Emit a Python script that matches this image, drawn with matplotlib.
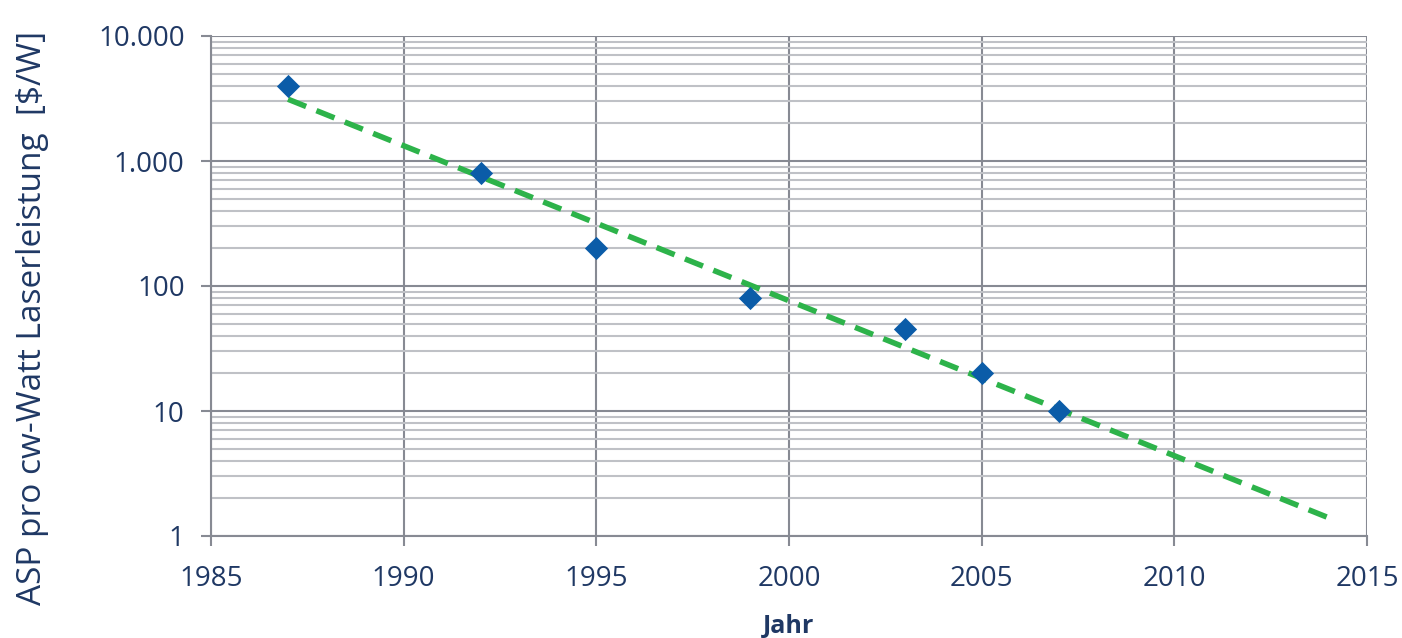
import matplotlib
matplotlib.use("Agg")
import matplotlib.pyplot as plt
import matplotlib.ticker as mticker
import numpy as np

# data
years = [1987, 1992, 1995, 1999, 2003, 2005, 2007]
asp = [4000, 800, 200, 80, 45, 20, 10]
trend_years = [1987, 2014]

x_ticks = [1985, 1990, 1995, 2000, 2005, 2010, 2015]
y_ticks = [1, 10, 100, 1000, 10000]
y_labels = ["1", "10", "100", "1.000", "10.000"]

text_col = "#1f3864"
major_col = "#878a93"
minor_col = "#bfc1c6"

plt.rcParams['font.family'] = ['Open Sans', 'DejaVu Sans']

fig = plt.figure(figsize=(14.02, 6.38), dpi=100)
ax = fig.add_axes([211 / 1402, 1 - 536 / 638, 1156 / 1402, 500 / 638])

# exponential trend line
k, d = np.polyfit(years, np.log10(asp), 1)
tx = np.array(trend_years, dtype=float)
ax.plot(tx, 10 ** (k * tx + d), color="#2db34a", lw=4, ls=(0, (3.5, 2)), zorder=3)

ax.scatter(years, asp, marker="D", s=140, color="#0b5ca8", zorder=4, linewidths=0)

ax.set_yscale("log")
ax.set_xlim(1985, 2015)
ax.set_ylim(1, 10000)
ax.set_xticks(x_ticks)
ax.set_yticks(y_ticks)
ax.set_yticklabels(y_labels)
ax.yaxis.set_minor_locator(mticker.LogLocator(base=10, subs=np.arange(2, 10)))
ax.yaxis.set_minor_formatter(mticker.NullFormatter())

ax.grid(True, which="major", color=major_col, lw=1.5)
ax.grid(True, which="minor", axis="y", color=minor_col, lw=1.5)
ax.set_axisbelow(True)

for side in ["top", "right"]:
    ax.spines[side].set_visible(False)
for side in ["left", "bottom"]:
    ax.spines[side].set_color(major_col)
    ax.spines[side].set_linewidth(1.5)

ax.tick_params(which="major", length=7, width=1.5, color=major_col,
               labelsize=20, labelcolor=text_col)
ax.tick_params(axis="y", pad=12)
ax.tick_params(axis="x", pad=14)
ax.tick_params(which="minor", length=0)

ax.set_xlabel("Jahr", fontsize=18, fontweight="bold", color=text_col, labelpad=15)
ax.set_ylabel("ASP pro cw-Watt Laserleistung  [$/W]", fontsize=24, color=text_col)
ax.yaxis.set_label_coords(-0.14, 0.436)

fig.savefig("out.png", dpi=100)
